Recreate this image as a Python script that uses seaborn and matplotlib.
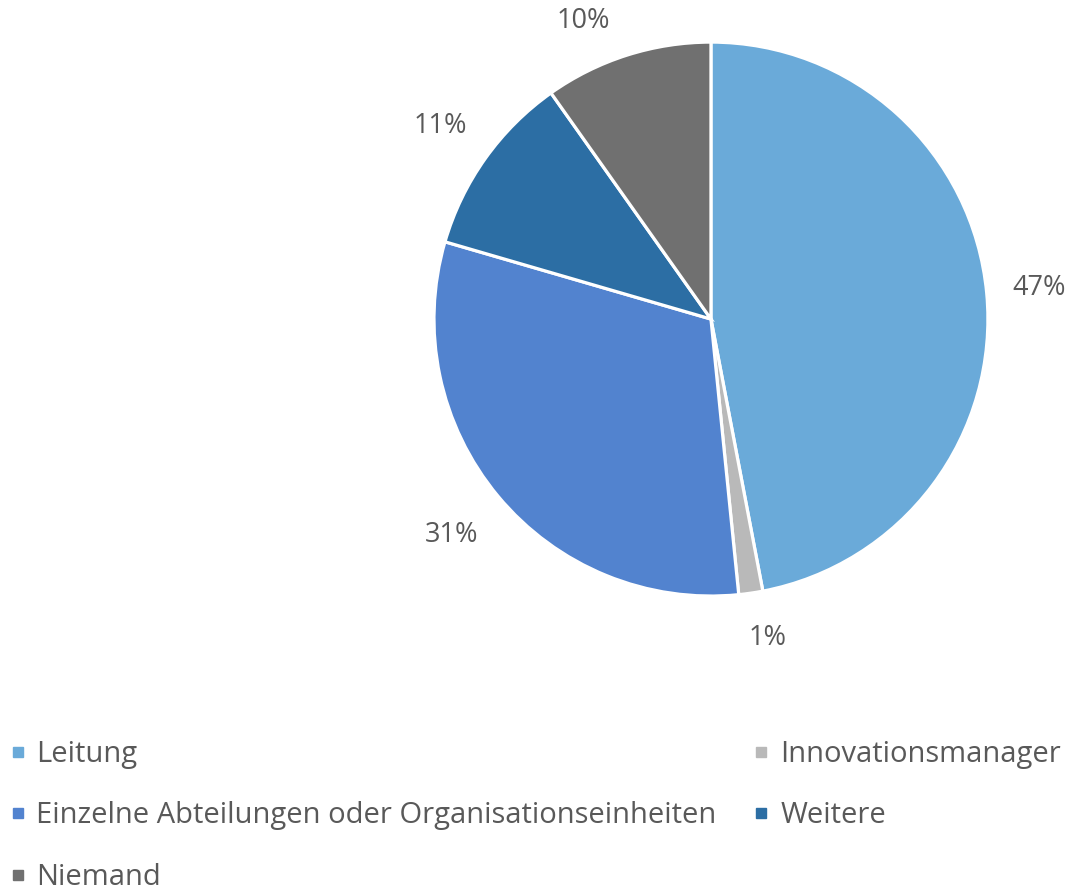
import matplotlib
matplotlib.use("Agg")
import matplotlib.pyplot as plt
from matplotlib.lines import Line2D
import numpy as np
import seaborn as sns

categories = ["Leitung", "Innovationsmanager", "Einzelne Abteilungen oder Organisationseinheiten", "Weitere", "Niemand"]
values = [47.0, 1.4, 31.1, 10.7, 9.8]
colors = ["#6AAAD9", "#B9B9B9", "#5283CF", "#2C6EA4", "#707070"]

# label placement style (distance from centre in radii, angular nudge in degrees)
label_dist = [1.19, 1.17, 1.22, 1.20, 1.17]
label_nudge = [0, 1.8, 0, 0, 5.6]

sns.set_theme(style="white")
plt.rcParams['font.family'] = ['Open Sans', 'DejaVu Sans']
text_color = "#595959"

fig = plt.figure(figsize=(10.75, 8.92), dpi=100)
ax = fig.add_axes([0.4037, 0.3318, 0.5153, 0.621])
wedges, texts, autotexts = ax.pie(
    values, colors=colors, startangle=90, counterclock=False,
    autopct="%.0f%%", pctdistance=1.19, radius=1,
    wedgeprops=dict(edgecolor="white", linewidth=2.3),
    textprops=dict(color=text_color, fontsize=19.5),
)
for w, t, d, n in zip(wedges, autotexts, label_dist, label_nudge):
    ang = np.deg2rad((w.theta1 + w.theta2) / 2 + n)
    t.set_position((d * np.cos(ang), d * np.sin(ang)))
ax.set_xlim(-1, 1)
ax.set_ylim(-1, 1)
ax.set_aspect("equal")
ax.axis("off")

handles = [Line2D([0], [0], marker="s", linestyle="none", markersize=7,
                  markerfacecolor=c, markeredgecolor=c) for c in colors]
order = [0, 2, 4, 1, 3]
leg = fig.legend([handles[i] for i in order], [categories[i] for i in order],
                 loc="upper left", bbox_to_anchor=(0.0, (892 - 731) / 892),
                 ncol=2, frameon=False, fontsize=21, handlelength=0.6,
                 handletextpad=0.35, columnspacing=1.23, labelspacing=1.12,
                 borderaxespad=0, borderpad=0.3)
for t in leg.get_texts():
    t.set_color(text_color)

fig.savefig("out.png", dpi=100)
